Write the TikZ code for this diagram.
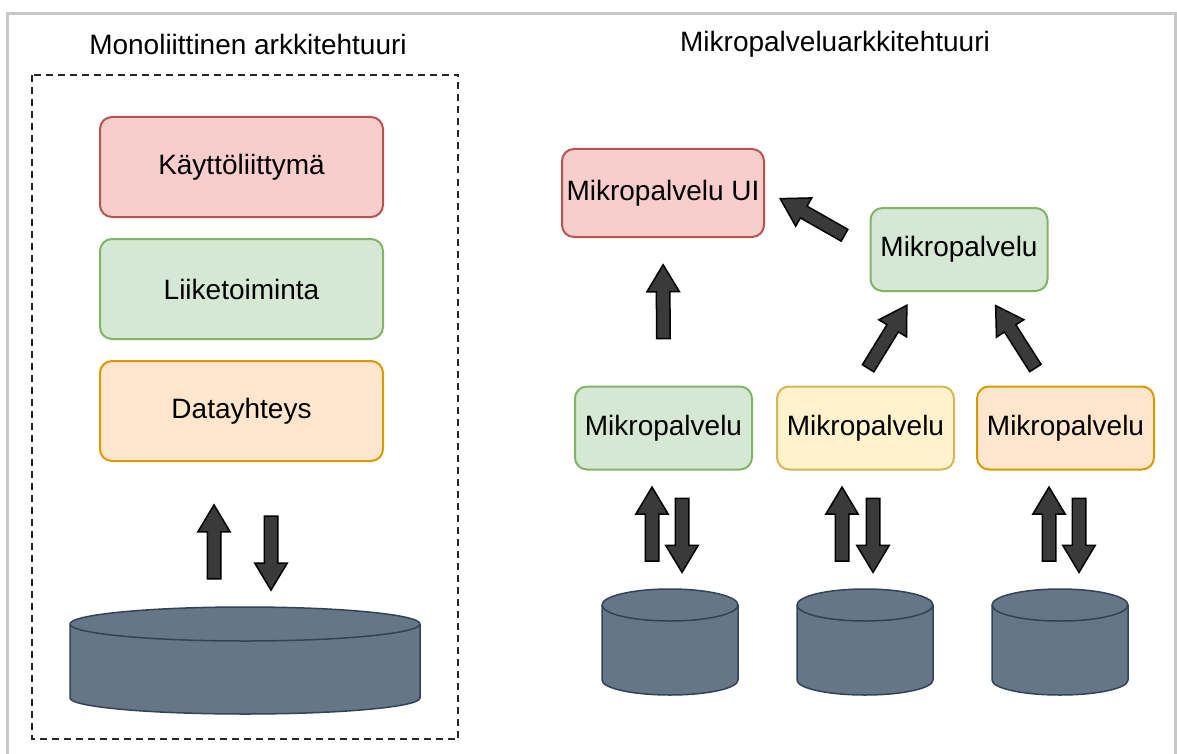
\documentclass[tikz,border=0pt]{standalone}
\usepackage{fontspec}
\setmainfont{Liberation Sans}
\usetikzlibrary{positioning,shapes.arrows,calc}
\definecolor{uifill}{HTML}{F8CECC}
\definecolor{uiline}{HTML}{B85450}
\definecolor{bizfill}{HTML}{D5E8D4}
\definecolor{bizline}{HTML}{82B366}
\definecolor{datafill}{HTML}{FFE6CC}
\definecolor{dataline}{HTML}{D79B00}
\definecolor{svcfill}{HTML}{FFF2CC}
\definecolor{svcline}{HTML}{D6B656}
\definecolor{dbfill}{HTML}{647687}
\definecolor{dbline}{HTML}{314354}
\definecolor{framegray}{HTML}{C8C8C8}
\definecolor{arrowgray}{HTML}{3A3A3A}

\begin{document}
\begin{tikzpicture}[x=1pt, y=-1pt, node distance=20pt, every node/.style={font=\fontsize{28}{34}\selectfont}]
\tikzstyle{box}=[draw, rounded corners=12pt, line width=2pt, align=center, inner sep=0pt, minimum width=283pt, minimum height=100pt]
\tikzstyle{mbox}=[box, minimum width=177pt, minimum height=83pt]
\tikzstyle{fatarrow}=[single arrow, draw=black, fill=arrowgray, line width=1.5pt, inner xsep=0pt, inner ysep=6pt, minimum width=31pt, minimum height=74pt, single arrow head extend=9.5pt, single arrow tip angle=62, sloped, allow upside down, midway]
\tikzstyle{db}=[draw=dbline, fill=dbfill, line width=1.5pt]
\useasboundingbox (0,0) rectangle (1177,754);
\draw[framegray, line width=3pt] (7.5,770) -- (7.5,13.5) -- (1175,13.5) -- (1175,770);

% monolith
\node (tmono) at (248,44) {Monoliittinen arkkitehtuuri};
\draw[dash pattern=on 7pt off 5pt, line width=2pt, black!85] (31.5,75) rectangle (458,739);
\node[box, fill=uifill, draw=uiline] (kl) at (241.5,167) {Käyttöliittymä};
\node[box, fill=bizfill, draw=bizline, below=of kl] (lt) {Liiketoiminta};
\node[box, fill=datafill, draw=dataline, below=of lt] (dy) {Datayhteys};
\coordinate (db0) at (245,607);
\draw[db] (70,624) -- (70,698) arc[start angle=180, end angle=360, x radius=175pt, y radius=16pt]
  -- (420,624) arc[start angle=0, end angle=180, x radius=175pt, y radius=17pt] -- cycle;
\draw[db] (70,624) arc[start angle=180, end angle=360, x radius=175pt, y radius=17pt];
\path ([xshift=-31pt]db0) -- ([xshift=-31pt]db0 |- dy.south) node[fatarrow, pos=0.41] {};
\path ([xshift=26pt]db0 |- dy.south) -- ([xshift=26pt]db0) node[fatarrow, pos=0.59] {};

% microservices
\node (tmicro) at (835,44) {Mikropalveluarkkitehtuuri};
\node[box, fill=uifill, draw=uiline, minimum width=202pt, minimum height=88pt] (ui) at (663,193) {Mikropalvelu UI};
\node[mbox, fill=bizfill, draw=bizline] (mp) at (959,249.5) {Mikropalvelu};
\node[mbox, fill=bizfill, draw=bizline] (g) at (663.5,428) {Mikropalvelu};
\node[mbox, fill=svcfill, draw=svcline, right=23pt of g] (yl) {Mikropalvelu};
\node[mbox, fill=datafill, draw=dataline, right=21pt of yl] (o) {Mikropalvelu};
\foreach \name/\cx in {db1/670, db2/865, db3/1060} {
  \coordinate (\name) at (\cx,589);
  \draw[db] (\cx-68,605) -- (\cx-68,680) arc[start angle=180, end angle=360, x radius=68pt, y radius=15pt]
    -- (\cx+68,605) arc[start angle=0, end angle=180, x radius=68pt, y radius=16pt] -- cycle;
  \draw[db] (\cx-68,605) arc[start angle=180, end angle=360, x radius=68pt, y radius=16pt];
}
\path (g.north) -- (ui.south) node[fatarrow, pos=0.53] {};
\path (mp.west) -- ([yshift=3pt]ui.east) node[fatarrow] {};
\path ([xshift=-8pt]yl.north) -- ([xshift=-44pt]mp.south) node[fatarrow, pos=0.47] {};
\path ([xshift=-19pt]o.north) -- ([xshift=28pt]mp.south) node[fatarrow, pos=0.47] {};
\foreach \dbn/\bx/\up/\down in {db1/g/-18/12, db2/yl/-23/8, db3/o/-11/19} {
  \path ([xshift=\up pt]\dbn) -- ([xshift=\up pt]\dbn |- \bx.south) node[fatarrow] {};
  \path ([xshift=\down pt]\dbn |- \bx.south) -- ([xshift=\down pt]\dbn) node[fatarrow] {};
}
\end{tikzpicture}
\end{document}
